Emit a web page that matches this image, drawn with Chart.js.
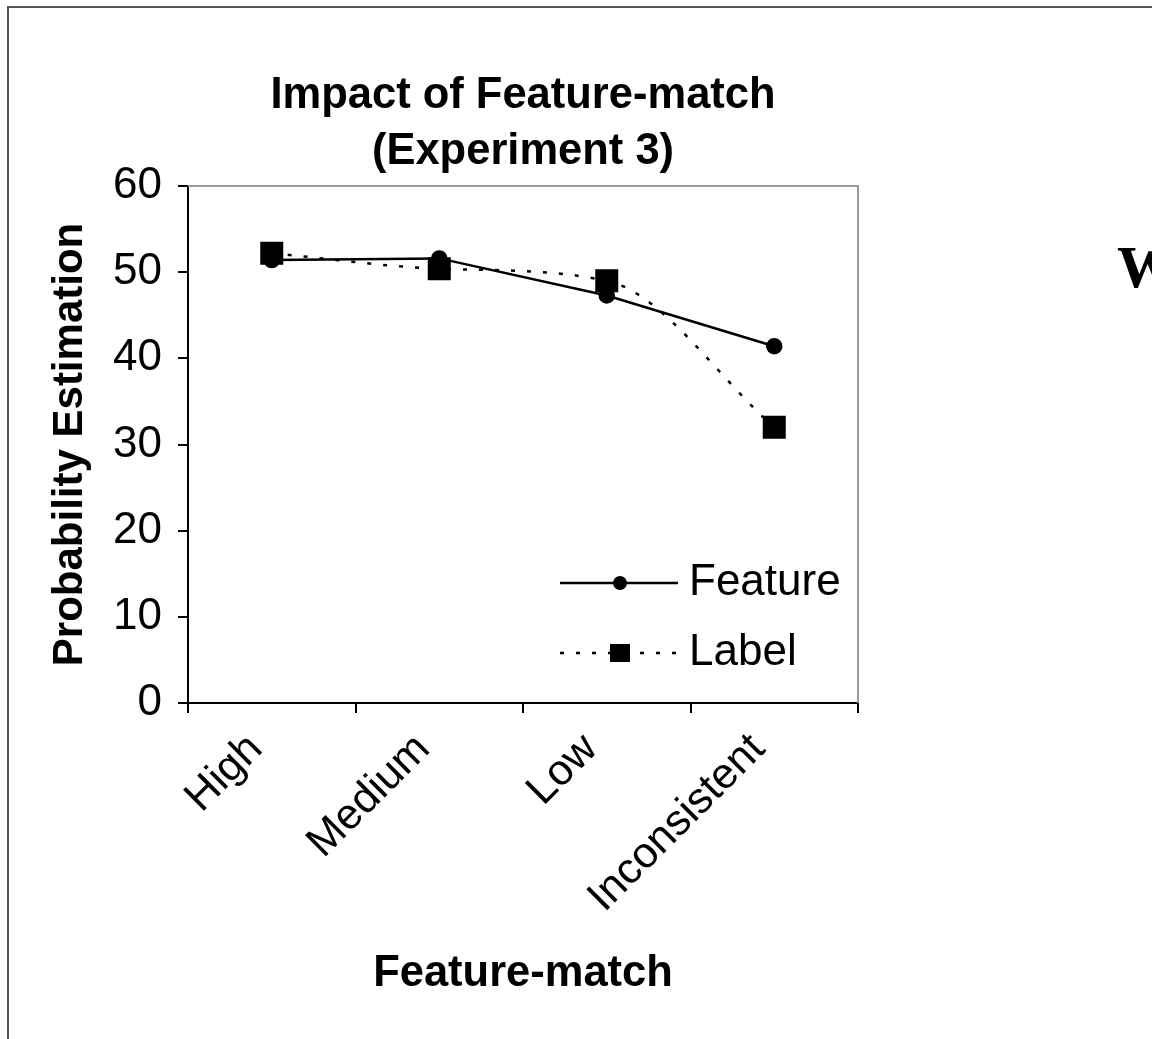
<!DOCTYPE html>
<html>
<head>
<meta charset="utf-8">
<title>Impact of Feature-match (Experiment 3)</title>
<script src="https://cdn.jsdelivr.net/npm/chart.js@4.4.1/dist/chart.umd.min.js"></script>
<style>
  html, body { margin: 0; padding: 0; background: #fff; overflow: hidden; }
  #wrap { position: relative; width: 1152px; height: 1039px; }
  #frame { position: absolute; left: 7px; top: 6px; width: 1300px; height: 1200px; border: 2px solid #555; }
  #stray { position: absolute; left: 1117px; top: 233px; font: bold 60px "Liberation Serif", "Times New Roman", serif; color: #000; }
  canvas { position: absolute; left: 0; top: 0; }
</style>
</head>
<body>
<div id="wrap">
  <div id="frame"></div>
  <canvas id="chart" width="1152" height="1039"></canvas>
  <div id="stray">W</div>
</div>
<script>
const categories = ['High', 'Medium', 'Low', 'Inconsistent'];
const featureValues = [51.4, 51.6, 47.3, 41.4];
const labelValues = [52.2, 50.4, 49.0, 32.0];
const yTicks = [0, 10, 20, 30, 40, 50, 60];
const seriesNames = ['Feature', 'Label'];

const family = '"Liberation Sans", Arial, Helvetica, sans-serif';

// grey frame on top and right of the plot area
const plotFrame = {
  id: 'plotFrame',
  beforeDatasetsDraw(chart) {
    const { ctx, chartArea: a } = chart;
    ctx.save();
    ctx.strokeStyle = '#999';
    ctx.lineWidth = 2;
    ctx.beginPath();
    ctx.moveTo(a.left, a.top);
    ctx.lineTo(a.right, a.top);
    ctx.lineTo(a.right, a.bottom);
    ctx.stroke();
    ctx.restore();
  }
};

// excel-style legend: line with marker in the middle, then the name
const lineLegend = {
  id: 'lineLegend',
  afterDraw(chart) {
    const { ctx, chartArea: a } = chart;
    const x0 = a.left + 372, x1 = a.left + 490, mx = a.left + 432, tx = a.left + 501;
    const rows = [a.top + 397, a.top + 467];
    ctx.save();
    chart.data.datasets.forEach((ds, i) => {
      const y = rows[i];
      ctx.strokeStyle = '#000';
      ctx.lineWidth = ds.borderWidth;
      ctx.setLineDash(ds.borderDash || []);
      ctx.beginPath();
      ctx.moveTo(x0, y);
      ctx.lineTo(x1, y);
      ctx.stroke();
      ctx.setLineDash([]);
      ctx.fillStyle = '#000';
      if (ds.pointStyle === 'rect') {
        ctx.fillRect(mx - 10, y - 9, 20, 18);
      } else {
        ctx.beginPath();
        ctx.arc(mx, y, 7, 0, Math.PI * 2);
        ctx.fill();
      }
      ctx.font = '44px ' + family;
      ctx.textBaseline = 'middle';
      ctx.textAlign = 'left';
      ctx.fillText(ds.label, tx, y);
    });
    ctx.restore();
  }
};

new Chart(document.getElementById('chart').getContext('2d'), {
  type: 'line',
  data: {
    labels: categories,
    datasets: [{
      label: seriesNames[0],
      data: featureValues,
      borderColor: '#000',
      backgroundColor: '#000',
      borderWidth: 2.5,
      pointStyle: 'circle',
      pointRadius: 7,
      tension: 0,
      fill: false,
      order: 2
    }, {
      label: seriesNames[1],
      data: labelValues,
      borderColor: '#000',
      backgroundColor: '#000',
      borderWidth: 2.5,
      borderDash: [4, 12],
      pointStyle: 'rect',
      pointRadius: 14.5,
      cubicInterpolationMode: 'monotone',
      fill: false,
      order: 1
    }]
  },
  options: {
    responsive: false,
    animation: false,
    layout: { padding: { left: 45, top: 68, right: 294, bottom: 39 } },
    plugins: {
      legend: { display: false },
      tooltip: { enabled: false },
      title: {
        display: true,
        text: ['Impact of Feature-match', '(Experiment 3)'],
        fullSize: false,
        color: '#000',
        font: { family: family, size: 43.5, weight: 'bold', lineHeight: 56 / 43.5 },
        padding: { top: 0, bottom: 6 }
      }
    },
    scales: {
      x: {
        offset: true,
        grid: { offset: true, drawOnChartArea: false, tickLength: 10, color: '#000', lineWidth: 2 },
        border: { color: '#000', width: 2 },
        ticks: { color: '#000', font: { family: family, size: 43 }, minRotation: 45, maxRotation: 45, padding: 11, labelOffset: -16, autoSkip: false },
        title: {
          display: true,
          text: 'Feature-match',
          color: '#000',
          font: { family: family, size: 43.5, weight: 'bold' },
          padding: { top: 0, bottom: 0 }
        },
        afterFit(scale) { scale.height = 297; }
      },
      y: {
        min: yTicks[0],
        max: yTicks[yTicks.length - 1],
        grid: { drawOnChartArea: false, tickLength: 10, color: '#000', lineWidth: 2 },
        border: { color: '#000', width: 2 },
        ticks: { stepSize: yTicks[1] - yTicks[0], color: '#000', font: { family: family, size: 44 }, padding: 16 },
        title: {
          display: true,
          text: 'Probability Estimation',
          color: '#000',
          font: { family: family, size: 42, weight: 'bold' },
          padding: { top: 0, bottom: 0 }
        },
        afterFit(scale) { scale.width = 143; }
      }
    }
  },
  plugins: [plotFrame, lineLegend]
});
</script>
</body>
</html>
